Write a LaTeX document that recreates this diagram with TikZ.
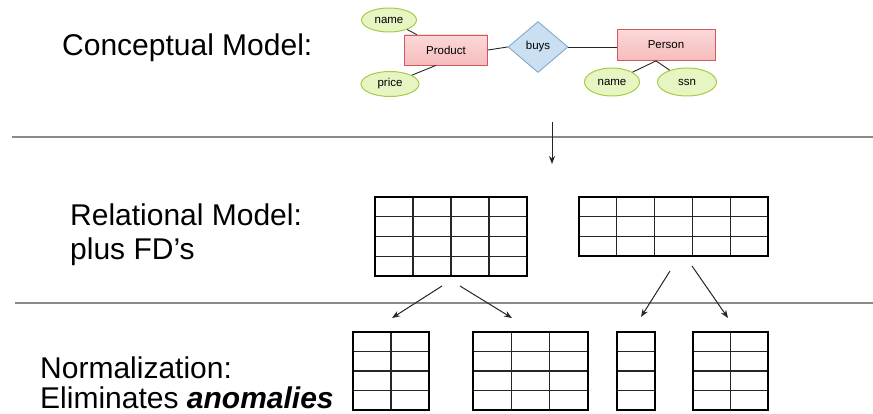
\documentclass[tikz,border=0pt]{standalone}
\usepackage{fontspec}
\setmainfont{Liberation Sans}
\usetikzlibrary{shapes.geometric,arrows.meta,calc}
\definecolor{entfill}{HTML}{F6BCBC}
\definecolor{entfilltop}{HTML}{FCD8D8}
\definecolor{entdraw}{HTML}{D0585E}
\definecolor{attfill}{HTML}{E6F5C2}
\definecolor{attdraw}{HTML}{A6CB45}
\definecolor{relfill}{HTML}{CADFF2}
\definecolor{reldraw}{HTML}{7AA2C6}
\definecolor{sepgray}{HTML}{8A8A8A}
\tikzset{
  entity/.style={draw=entdraw, line width=0.8pt, top color=entfilltop, bottom color=entfill, inner sep=0pt, font=\fontsize{11.5}{13}\selectfont},
  attr/.style={ellipse, draw=attdraw, line width=1pt, fill=attfill, inner sep=0pt, font=\fontsize{11.5}{13}\selectfont},
  rel/.style={diamond, draw=reldraw, line width=0.8pt, fill=relfill, inner sep=0pt, font=\fontsize{11.5}{13}\selectfont},
  erline/.style={draw=black!85, line width=0.9pt},
  sepline/.style={draw=sepgray, line width=2.2pt},
  flow/.style={draw=black!85, line width=1pt, -{Stealth[length=8pt,width=6pt]}},
  tbl/.style={draw=black, line width=2.6pt, inner sep=0pt, outer sep=0pt},
  tblin/.style={draw=black!85, line width=1.2pt},
  bigtext/.style={anchor=base west, inner sep=0pt, font=\fontsize{30}{34}\selectfont},
}
\newcommand{\dbtable}[7]{%
  \pgfmathtruncatemacro\nca{#6-1}%
  \pgfmathtruncatemacro\nra{#7-1}%
  \ifnum\nca>0
    \foreach \k in {1,...,\nca} {\draw[tblin] ({#2+(#4-#2)*\k/#6},#3) -- ({#2+(#4-#2)*\k/#6},#5);}
  \fi
  \ifnum\nra>0
    \foreach \k in {1,...,\nra} {\draw[tblin] (#2,{#3+(#5-#3)*\k/#7}) -- (#4,{#3+(#5-#3)*\k/#7});}
  \fi
  \node[tbl, minimum width=#4pt-#2pt, minimum height=#5pt-#3pt] (#1) at ({(#2+#4)/2},{(#3+#5)/2}) {};
}
\begin{document}
\begin{tikzpicture}[x=1pt,y=-1pt]
\useasboundingbox (0,0) rectangle (873,414);

% left labels
\node[bigtext] (t1) at (62,56) {Conceptual Model:};
\node[bigtext] (t2) at (70,226) {Relational Model:};
\node[bigtext] (t3) at (70,260) {plus FD’s};
\node[bigtext] (t4) at (40,378) {Normalization:};
\node[bigtext] (t5) at (40,408) {Eliminates \textbf{\textit{anomalies}}};

% separators
\coordinate (s1a) at (12,137); \coordinate (s1b) at (873,137);
\coordinate (s2a) at (15,303); \coordinate (s2b) at (873,303);
\draw[sepline] (s1a) -- (s1b);
\draw[sepline] (s2a) -- (s2b);

% ER diagram
\node[entity, minimum width=83pt, minimum height=30pt] (product) at (446,50) {Product};
\node[entity, minimum width=98pt, minimum height=31pt] (person) at (666,45) {Person};
\node[rel, minimum width=60pt, minimum height=51pt] (buys) at (538,47) {buys};
\node[attr, minimum width=55pt, minimum height=24pt] (pname) at (389,20) {name};
\node[attr, minimum width=58pt, minimum height=25pt] (price) at (390,84) {price};
\node[attr, minimum width=55pt, minimum height=28pt] (sname) at (612,82) {name};
\node[attr, minimum width=59pt, minimum height=28pt] (ssn) at (687,82) {ssn};
\draw[erline] (product.east) -- (buys.west);
\draw[erline] (buys.east) -- (buys.east -| person.west);
\draw[erline] (pname) -- (product);
\draw[erline] (price) -- ([xshift=-10pt]product.south);
\draw[erline] (sname) -- ([xshift=-10pt]person.south);
\draw[erline] (ssn) -- ([xshift=-10pt]person.south);

% down arrow
\coordinate (d1) at (552,122); \coordinate (d2) at (552,164);
\draw[flow] (d1) -- (d2);

% relational tables
\dbtable{r1}{375}{197}{527}{276}{4}{4}
\dbtable{r2}{579}{197}{768}{256}{5}{3}

% normalized tables
\dbtable{n1}{353}{332}{429}{410}{2}{4}
\dbtable{n2}{473}{332}{588}{410}{3}{4}
\dbtable{n3}{617}{332}{655}{410}{1}{4}
\dbtable{n4}{693}{332}{768}{410}{2}{4}

% split arrows
\coordinate (a1s) at (442,286); \coordinate (a1e) at (392,318);
\coordinate (a2s) at (460,286); \coordinate (a2e) at (512,318);
\coordinate (a3s) at (670,271); \coordinate (a3e) at (641,317);
\coordinate (a4s) at (692,266); \coordinate (a4e) at (728,318);
\draw[flow] (a1s) -- (a1e);
\draw[flow] (a2s) -- (a2e);
\draw[flow] (a3s) -- (a3e);
\draw[flow] (a4s) -- (a4e);
\end{tikzpicture}
\end{document}
